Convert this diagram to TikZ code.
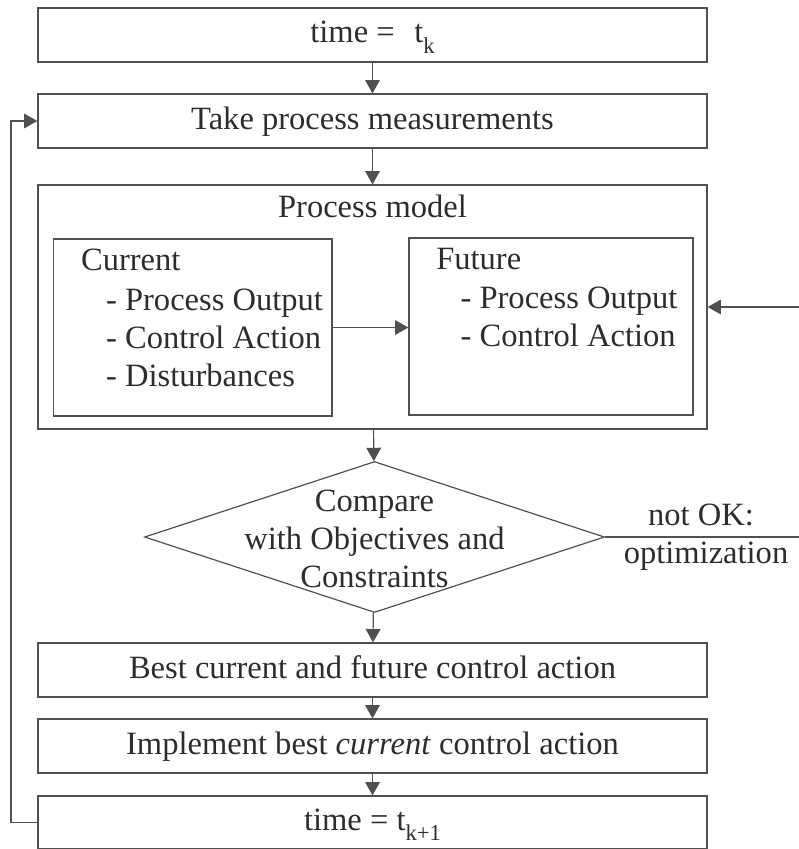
\documentclass[tikz,border=0pt]{standalone}
\usepackage{fontspec}
\setmainfont{Liberation Serif}
\usetikzlibrary{arrows.meta,shapes.geometric}
\definecolor{inkline}{RGB}{80,80,80}
\definecolor{inktext}{RGB}{45,45,45}
\newcommand{\tsub}[1]{\raisebox{-.32em}{\fontsize{17}{17}\selectfont #1}}
\tikzset{every picture/.style={line width=0.9pt}}
\tikzset{
	wide box/.style={draw=inkline, minimum width=501.75pt, minimum height=40.5pt, inner sep=0pt, text height=1.2em, text depth=0em},
	inner box/.style={draw=inkline, inner sep=0pt},
	txt/.style={inner sep=0pt, text height=1.2em, text depth=0em},
	flow/.style={draw=inkline, -{Triangle[length=10pt,width=11pt]}},
	plain line/.style={draw=inkline}}

\begin{document}
\begin{tikzpicture}[x=0.75pt,y=0.75pt,yscale=-1,xscale=1, font=\fontsize{24.4}{28.6}\selectfont, text=inktext]
	\useasboundingbox (0,0) rectangle (799,849);

	%Shape: Rectangle [time t_k]
	\node [wide box] (tk) at (372.5,35) {time =\hspace{.6em}t\tsub{k}};
	%Shape: Rectangle [measurements]
	\node [wide box] (meas) at (372.5,121) {Take process measurements};
	%Shape: Rectangle [process model]
	\node [wide box, minimum height=183pt] (model) at (372.5,307) {};
	\node [txt] (modeltitle) at (372.5,209) {Process model};
	%Shape: Rectangle [current / future]
	\node [inner box, minimum width=208.9pt, minimum height=132.75pt] (cur) at (192.75,327.5) {};
	\node [inner box, minimum width=213pt, minimum height=132.75pt] (fut) at (551,326.5) {};

	% Text Node
	\node [txt, anchor=west] (curhead) at (80.5,262) {Current};
	\node [txt, anchor=west] (curout) at (105.5,302) {- Process Output};
	\node [txt, anchor=west] (curact) at (105.5,340) {- Control Action};
	\node [txt, anchor=west] (curdist) at (105.5,378) {- Disturbances};
	% Text Node
	\node [txt, anchor=west] (futhead) at (435.7,261) {Future};
	\node [txt, anchor=west] (futout) at (460,300) {- Process Output};
	\node [txt, anchor=west] (futact) at (460,338) {- Control Action};

	%Shape: Diamond [compare]
	\node [draw=inkline, diamond, minimum width=345pt, minimum height=113.25pt, inner sep=0pt] (cmp) at (374.5,537) {};
	\node [align=center, inner sep=0pt] (cmptext) at (374.5,539) {Compare\\with Objectives and\\Constraints};
	% Text Node
	\node [txt] (notok) at (701,517) {not OK:};
	\node [txt] (optim) at (706,555) {optimization};

	%Shape: Rectangle [result boxes]
	\node [wide box] (best) at (372.5,670) {Best current and future control action};
	\node [wide box] (impl) at (372.5,746) {Implement best \textit{current} control action};
	\node [wide box, minimum height=39.75pt] (tk1) at (372.5,822.5) {time = t\tsub{k+1}};

	\coordinate (fbx) at (11,822.5);
	\coordinate (optin) at (799,307);

	%Straight Lines
	\draw [flow] (tk) -- (meas);
	\draw [flow] (meas) -- (model);
	\draw [flow] (model) -- (cmp);
	\draw [flow] (cmp) -- (best);
	\draw [flow] (best) -- (impl);
	\draw [flow] (impl) -- (tk1);
	\draw [flow] (cur.east) -- (cur.east -| fut.west);
	%Feedback loops
	\draw [flow] (tk1.west) -- (fbx) |- (meas.west);
	\draw [plain line] (cmp.east) -- (cmp.east -| optin);
	\draw [flow] (optin) -- (optin -| model.east);

\end{tikzpicture}
\end{document}
